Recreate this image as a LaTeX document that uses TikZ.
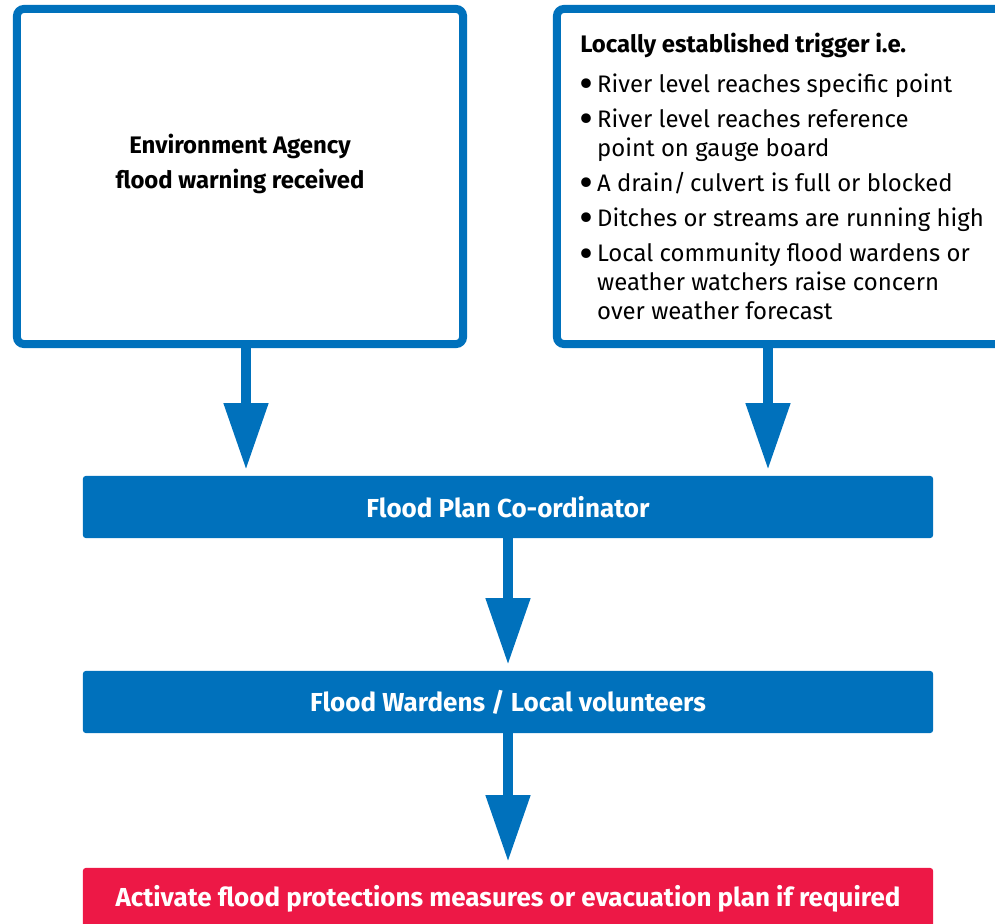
\documentclass[tikz,border=0pt]{standalone}
\usepackage{fontspec}
\setmainfont{Fira Sans}
\usetikzlibrary{arrows.meta}
\definecolor{eablue}{RGB}{0,113,188}
\definecolor{eared}{RGB}{237,24,70}
\newcommand{\bul}{\makebox[12pt][l]{\raisebox{-2.4pt}{\scalebox{1.45}{\bfseries •}}}}
\newcommand{\ind}{\hspace*{12pt}}
\tikzset{
  whitebox/.style={draw=eablue, line width=5.7pt, fill=white, rounded corners=5pt, inner sep=0pt},
  boxtext/.style={font=\fontsize{17}{25}\selectfont\bfseries, align=center},
  listtext/.style={font=\fontsize{17}{20.6}\selectfont, align=left, inner sep=0pt},
  bar/.style={fill=eablue, rounded corners=2pt, minimum width=21.25cm, minimum height=1.55cm,
    text=white, font=\bfseries\fontsize{18.5}{22}\selectfont},
  flow/.style={draw=eablue, line width=7.8pt, -{Triangle[length=47.7pt,width=29.9pt]}, shorten >=4pt}
}
\begin{document}
\begin{tikzpicture}[x=0.025cm,y=-0.025cm]
\clip (0,0) rectangle (995,924);
\node[whitebox, minimum width=11.15cm, minimum height=8.375cm] (envwarn) at (240,176.5) {};
\node[boxtext] (envtext) at (240,164) {Environment Agency\\flood warning received};
\node[whitebox, minimum width=11.6cm, minimum height=8.375cm] (trigger) at (789,176.5) {};
\node[listtext, anchor=north west] (trigtext) at (580,32.5) {\textbf{Locally established trigger i.e.}\\[7.8pt]
  \bul River level reaches specific point\\[4.4pt]
  \bul River level reaches reference\\
  \ind point on gauge board\\[4.4pt]
  \bul A drain/\,culvert is full or blocked\\[4.4pt]
  \bul Ditches or streams are running high\\[4.4pt]
  \bul Local community flood wardens or\\
  \ind weather watchers raise concern\\
  \ind over weather forecast};
\node[bar] (coord) at (508,507) {Flood Plan Co-ordinator};
\node[bar] (wardens) at (508,702) {Flood Wardens / Local volunteers};
\node[bar, fill=eared] (activate) at (508,899) {Activate flood protections measures or evacuation plan if required};
\coordinate (la) at (246,0);
\coordinate (ra) at (768,0);
\draw[flow] (envwarn.south -| la) -- (coord.north -| la);
\draw[flow] (trigger.south -| ra) -- (coord.north -| ra);
\draw[flow] (coord.south) -- (wardens.north);
\draw[flow] (wardens.south) -- (activate.north);
\end{tikzpicture}
\end{document}
